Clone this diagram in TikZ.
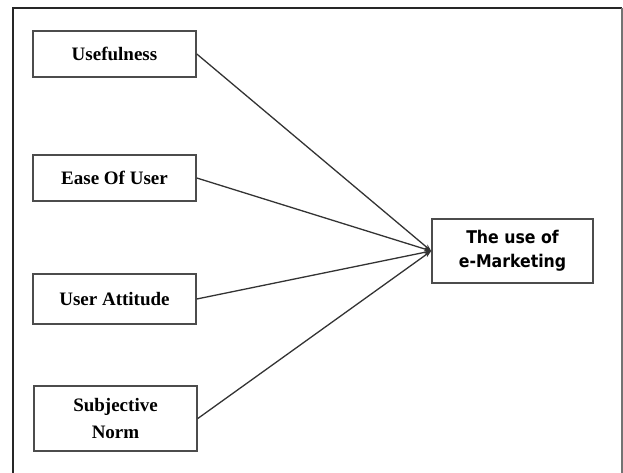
\documentclass[tikz,border=0pt]{standalone}
\usepackage{fontspec}
\setmainfont{Liberation Serif}
\newfontfamily\boxsans{DejaVu Sans Condensed}
\usetikzlibrary{arrows.meta}
\begin{document}
\begin{tikzpicture}[x=1pt, y=-1pt,
  factor/.style={draw=black!70, line width=1.6pt, fill=white, minimum width=163pt, align=center, font=\fontsize{19}{27}\selectfont\bfseries},
  outcome/.style={draw=black!70, line width=1.6pt, fill=white, minimum width=161pt, minimum height=64pt, align=center, font=\fontsize{17.5}{24}\selectfont\boxsans\bfseries}]
  \useasboundingbox (0,0) rectangle (623,473);
  \draw[black!85, line width=1.4pt] (13,473) -- (13,8) -- (622,8);
  \draw[black!55, line width=1.4pt] (622,8) -- (622,473);

  \node[factor, minimum height=46pt] (useful) at (114.5,54) {Usefulness};
  \node[factor, minimum height=46pt] (ease) at (114.5,178) {Ease Of User};
  \node[factor, minimum height=50pt] (attitude) at (114.5,299) {User Attitude};
  \node[factor, minimum height=65pt] (norm) at (115.5,418.5) {Subjective\\Norm};
  \node[outcome] (use) at (512.5,251) {The use of\\e-Marketing};

  \foreach \src in {useful, ease, attitude, norm}
    \draw[-{Stealth[length=7pt, width=5pt]}, black!80, line width=1.3pt] (\src.east) -- (use.west);
\end{tikzpicture}
\end{document}
